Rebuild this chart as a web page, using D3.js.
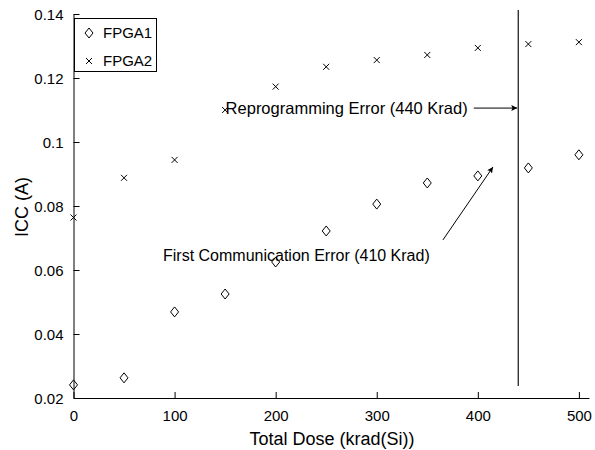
<!DOCTYPE html>
<html>
<head>
<meta charset="utf-8">
<script src="https://cdn.jsdelivr.net/npm/d3@7"></script>
<style>
  html, body { margin: 0; padding: 0; background: #fff; }
  svg { display: block; font-family: "Liberation Sans", Arial, Helvetica, sans-serif; }
</style>
</head>
<body>
<svg id="chart" width="595" height="450"></svg>
<script>
// Dose steps (krad(Si)) and supply current (A) for each device
const doses = [0, 50, 100, 150, 200, 250, 300, 350, 400, 450, 500];
const fpga1 = [0.0241, 0.0263, 0.0469, 0.0525, 0.0625, 0.0722, 0.0806, 0.0872, 0.0894, 0.0919, 0.0960];
const fpga2 = [0.0764, 0.0888, 0.0944, 0.1100, 0.1173, 0.1235, 0.1256, 0.1272, 0.1294, 0.1306, 0.1312];
const seriesNames = ["FPGA1", "FPGA2"];

const xTicks = [0, 100, 200, 300, 400, 500];
const yTicks = [0.02, 0.04, 0.06, 0.08, 0.1, 0.12, 0.14];
const yTickLabels = ["0.02", "0.04", "0.06", "0.08", "0.1", "0.12", "0.14"];

// Failure events
const reprogDose = 440;
const reprogLabel = "Reprogramming Error (440 Krad)";
const commDose = 410;
const commLabel = "First Communication Error (410 Krad)";

const svg = d3.select("#chart");

const x = d3.scaleLinear().domain([0, 510]).range([73.5, 589]);
const y = d3.scaleLinear().domain([0.02, 0.14]).range([398, 14]);

// Axes (ticks point inward, no box)
const xAxis = d3.axisBottom(x).tickValues(xTicks).tickSizeInner(-6).tickSizeOuter(0).tickPadding(12);
const yAxis = d3.axisLeft(y).tickValues(yTicks).tickFormat((d, i) => yTickLabels[i]).tickSizeInner(-6).tickSizeOuter(0).tickPadding(10);

const gx = svg.append("g").attr("transform", `translate(0,${y.range()[0]})`).call(xAxis);
const gy = svg.append("g").attr("transform", `translate(${x.range()[0]},0)`).call(yAxis);
[gx, gy].forEach(g => {
  g.select(".domain").attr("stroke", "#000").attr("stroke-width", 1);
  g.selectAll(".tick line").attr("stroke", "#000");
  g.selectAll(".tick text").attr("fill", "#000").attr("font-size", 15).attr("font-family", "Liberation Sans, Arial, sans-serif");
});
gy.selectAll(".tick text").attr("dy", "0.35em");

// Axis titles
svg.append("text")
  .attr("x", 332).attr("y", 445)
  .attr("text-anchor", "middle").attr("font-size", 18)
  .text("Total Dose (krad(Si))");
svg.append("text")
  .attr("transform", "translate(28,207) rotate(-90)")
  .attr("text-anchor", "middle").attr("font-size", 18)
  .text("ICC (A)");

// Markers
const diamond = "M0,-5L4,0L0,5L-4,0Z";
const cross = "M-3,-3L3,3M-3,3L3,-3";

svg.append("g").selectAll("path").data(doses).join("path")
  .attr("d", diamond)
  .attr("transform", (d, i) => `translate(${x(d)},${y(fpga1[i])})`)
  .attr("fill", "none").attr("stroke", "#000").attr("stroke-width", 1);

svg.append("g").selectAll("path").data(doses).join("path")
  .attr("d", cross)
  .attr("transform", (d, i) => `translate(${x(d)},${y(fpga2[i])})`)
  .attr("fill", "none").attr("stroke", "#000").attr("stroke-width", 1);

// Reprogramming error: vertical marker line
svg.append("line")
  .attr("x1", x(reprogDose)).attr("x2", x(reprogDose))
  .attr("y1", 10).attr("y2", 386)
  .attr("stroke", "#111").attr("stroke-width", 1.2);

// Arrowhead definition
svg.append("defs").append("marker")
  .attr("id", "arrow").attr("viewBox", "0 0 10 10")
  .attr("refX", 10).attr("refY", 5)
  .attr("markerWidth", 10).attr("markerHeight", 6)
  .attr("markerUnits", "userSpaceOnUse")
  .attr("orient", "auto")
  .append("path").attr("d", "M0,0L10,5L0,10L2,5Z").attr("fill", "#000");

// Reprogramming annotation
const reprogY = 0.1106;
svg.append("line")
  .attr("x1", x(396)).attr("y1", y(reprogY))
  .attr("x2", x(reprogDose) - 1).attr("y2", y(reprogY))
  .attr("stroke", "#000").attr("stroke-width", 1)
  .attr("marker-end", "url(#arrow)");
svg.append("text")
  .attr("x", x(390)).attr("y", y(reprogY))
  .attr("dy", "0.35em").attr("text-anchor", "end").attr("font-size", 16.5)
  .text(reprogLabel);

// First communication error annotation
svg.append("line")
  .attr("x1", x(365.5)).attr("y1", y(0.0694))
  .attr("x2", x(commDose + 5)).attr("y2", y(0.0922))
  .attr("stroke", "#000").attr("stroke-width", 1)
  .attr("marker-end", "url(#arrow)");
svg.append("text")
  .attr("x", 163).attr("y", y(0.0645))
  .attr("dy", "0.35em").attr("font-size", 16)
  .text(commLabel);

// Legend
const legend = svg.append("g");
legend.append("rect")
  .attr("x", 74.5).attr("y", 18.5).attr("width", 82).attr("height", 53)
  .attr("fill", "#fff").attr("stroke", "#000").attr("stroke-width", 1);
const legendShapes = [diamond, cross];
seriesNames.forEach((name, i) => {
  const ly = 33 + i * 28;
  legend.append("path").attr("d", legendShapes[i])
    .attr("transform", `translate(89,${ly})`)
    .attr("fill", "none").attr("stroke", "#000");
  legend.append("text").attr("x", 103).attr("y", ly).attr("dy", "0.35em")
    .attr("font-size", 15).text(name);
});
</script>
</body>
</html>
